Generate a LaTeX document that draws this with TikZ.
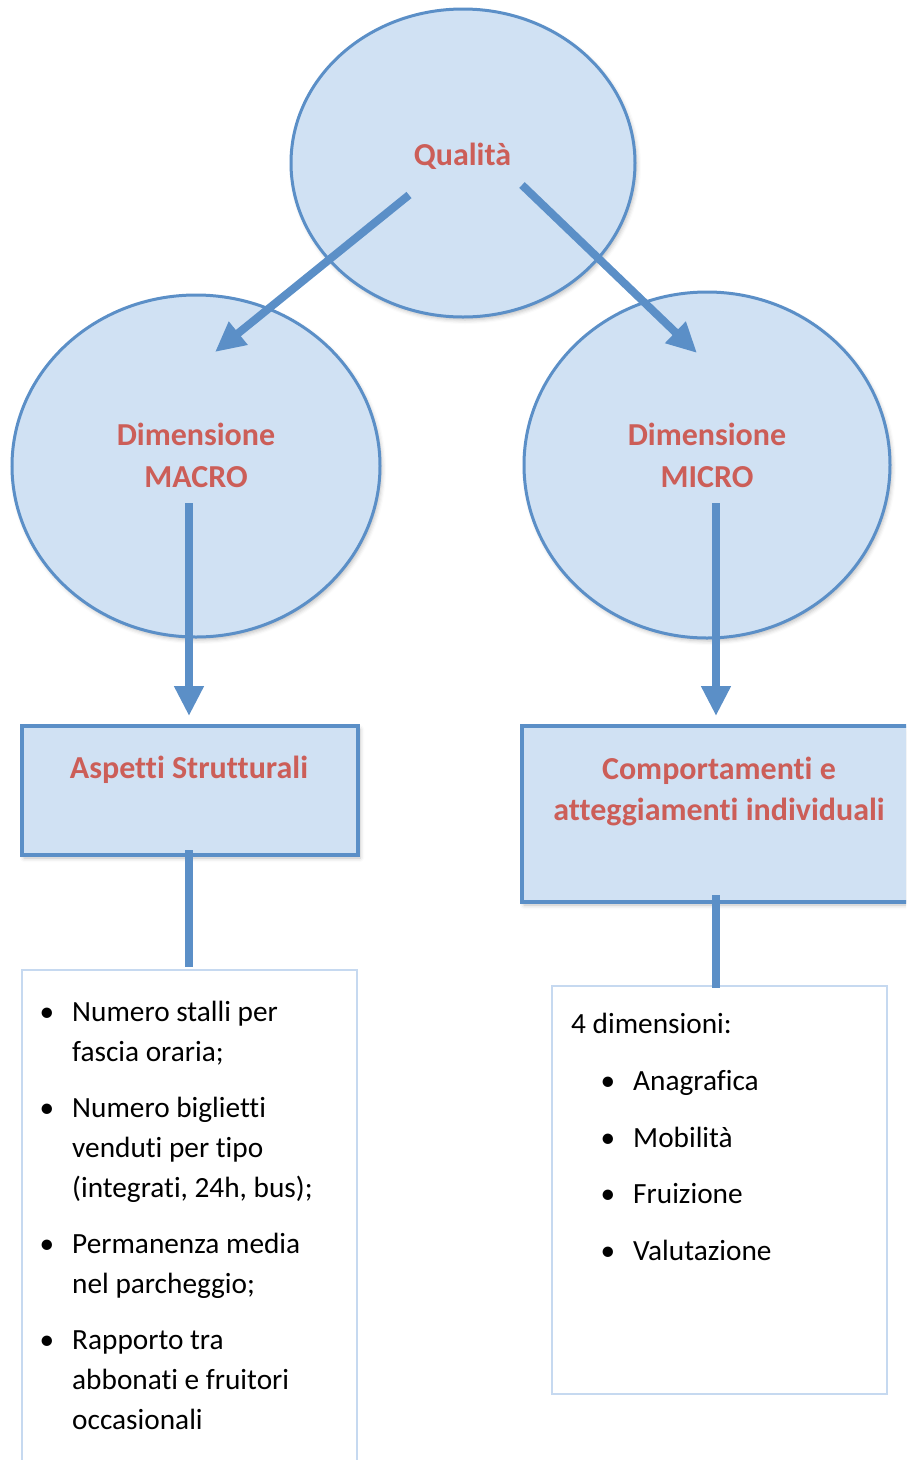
\documentclass[tikz,border=0pt]{standalone}
\usepackage{fontspec}
\setmainfont{Carlito}[Ligatures={NoCommon}]
\usetikzlibrary{arrows.meta,shapes.geometric,shadows.blur}
\definecolor{fillblue}{RGB}{208,225,243}
\definecolor{lineblue}{RGB}{91,143,199}
\definecolor{titlered}{RGB}{204,94,88}
\definecolor{paleblue}{RGB}{198,217,240}
\tikzset{
  bubble/.style={ellipse,draw=lineblue,line width=3pt,fill=fillblue,inner sep=0pt,
    blur shadow={shadow xshift=2pt,shadow yshift=-3pt,shadow blur radius=4pt,shadow opacity=25}},
  bluebox/.style={draw=lineblue,line width=3.5pt,fill=fillblue,
    blur shadow={shadow xshift=2pt,shadow yshift=-3pt,shadow blur radius=4pt,shadow opacity=25}},
  listbox/.style={draw=paleblue,line width=2pt,fill=white},
  title/.style={text=titlered,font=\fontsize{32}{41}\selectfont\bfseries,align=center,inner sep=0pt},
  item/.style={font=\fontsize{29.3}{40}\selectfont,anchor=base west,inner sep=0pt},
  dot/.style={font=\fontsize{29.3}{40}\selectfont,anchor=base,inner sep=0pt},
  arr/.style={draw=lineblue,line width=8pt,-{Triangle[length=30pt,width=28pt]}},
  conn/.style={draw=lineblue,line width=8pt},
}
\begin{document}
\begin{tikzpicture}[x=1pt,y=-1pt]
\useasboundingbox (0,0) rectangle (906,1460);
\clip (0,0) rectangle (906,1460);
% ellipses
\node[bubble,minimum width=344pt,minimum height=308pt] (q) at (463,163) {};
\node[bubble,minimum width=368pt,minimum height=342pt] (macro) at (196,466) {};
\node[bubble,minimum width=366pt,minimum height=346pt] (micro) at (707,465) {};
\node[title,anchor=base] (tq) at (462.5,165) {Qualità};
\node[title,anchor=base] (tma) at (196,445) {Dimensione};
\node[title,anchor=base] (tmb) at (196,487) {MACRO};
\node[title,anchor=base] (tia) at (707,445) {Dimensione};
\node[title,anchor=base] (tib) at (707,487) {MICRO};
% boxes
\draw[bluebox] (22,726) rectangle (358,855);
\coordinate (b1top) at (189,726);
\coordinate (b1bot) at (189,850);
\node[title,anchor=base] (tb1) at (189,778) {Aspetti Strutturali};
\draw[bluebox] (522,726) rectangle (930,902);
\coordinate (b2top) at (716,726);
\coordinate (b2bot) at (716,895);
\node[title,anchor=base] (tb2a) at (719,779) {Comportamenti e};
\node[title,anchor=base] (tb2b) at (719,820) {atteggiamenti individuali};
% list boxes
\draw[listbox] (22,970) rectangle (357,1480);
\coordinate (l1top) at (189,967);
\draw[listbox] (552,986) rectangle (887,1394);
\coordinate (l2top) at (716,988);
% arrows
\coordinate (qa) at (409,195);
\coordinate (qb) at (522,185);
\coordinate (ma) at (215,352);
\coordinate (mb) at (697,353);
\coordinate (ms) at (189,503);
\coordinate (mis) at (716,503);
\coordinate (me) at (189,716);
\coordinate (mie) at (716,716);
\draw[arr] (qa) -- (ma);
\draw[arr] (qb) -- (mb);
\draw[arr] (ms) -- (me);
\draw[arr] (mis) -- (mie);
\draw[conn] (b1bot) -- (l1top);
\draw[conn] (b2bot) -- (l2top);
% left list
\foreach \y/\t [count=\i] in {1021/Numero stalli per,1061/fascia oraria;,1117/Numero biglietti,1157/venduti per tipo,1197/{(integrati, 24h, bus);},1253/Permanenza media,1293/nel parcheggio;,1349/Rapporto tra,1389/abbonati e fruitori,1429/occasionali}
  \node[item] (la\i) at (72,\y) {\t};
\foreach \y [count=\i] in {1021,1117,1253,1349}
  \node[dot] (lb\i) at (47,\y) {•};
% right list
\node[item] (rh) at (571,1033) {4 dimensioni:};
\foreach \y/\t [count=\i] in {1090/Anagrafica,1147/Mobilità,1203/Fruizione,1260/Valutazione}{
  \node[item] (ra\i) at (633,\y) {\t};
  \node[dot] (rb\i) at (608,\y) {•};
}
\end{tikzpicture}
\end{document}
